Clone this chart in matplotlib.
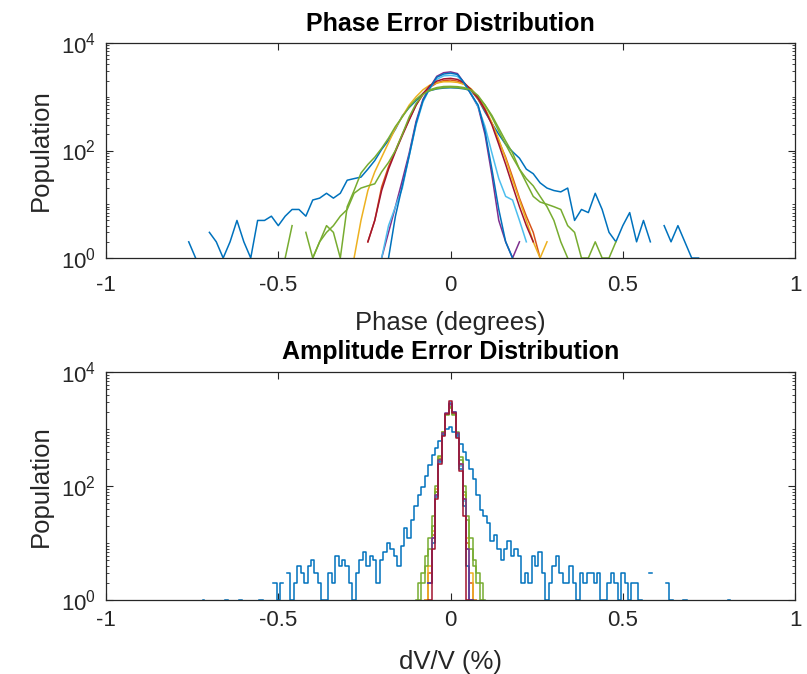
import numpy as np
import matplotlib

matplotlib.use("Agg")

import matplotlib.pyplot as plt
from matplotlib.ticker import FixedLocator, LogLocator, NullFormatter, LogFormatterMathtext

plt.rcParams["font.family"] = ["Liberation Sans", "DejaVu Sans"]
plt.rcParams["mathtext.fontset"] = "custom"
plt.rcParams["mathtext.rm"] = "Liberation Sans"

# MATLAB default line colours
C_BLUE = "#0072BD"
C_ORANGE = "#D95319"
C_YELLOW = "#EDB120"
C_PURPLE = "#7E2F8E"
C_GREEN = "#77AC30"
C_CYAN = "#4DBEEE"
C_RED = "#A2142F"

# ======================
# PHASE HISTOGRAMS (bin width 0.02 deg, 0 = empty bin)
# ======================
phase_step = 0.02

phase_blue_start = -0.76
phase_blue = [2, 1, 0, 3, 2, 1, 2, 5, 2, 1,
              5, 5, 6, 4, 6, 8, 8, 6, 12, 13,
              16, 13, 16, 28, 30, 32, 45, 65, 105, 155,
              250, 440, 630, 850, 1130, 1300, 1400, 1450, 1470, 1450,
              1400, 1300, 900, 520, 320, 200, 130, 95, 72, 45,
              37, 25, 20, 18, 17, 20, 5, 8, 7, 16,
              8, 3, 2, 4, 7, 2, 5, 2, 0, 4,
              2, 4, 2, 1, 1]

phase_orange_start = -0.24
phase_orange = [2, 5, 21, 50, 100, 200, 380, 700, 1100, 1500,
                1800, 2000, 2050, 1950, 1700, 1300, 900, 560, 320, 150,
                75, 32, 13, 6, 3, 1]

phase_yellow_start = -0.28
phase_yellow = [1, 5, 18, 40, 75, 140, 260, 430, 700, 1000,
                1350, 1650, 1800, 1900, 1900, 1850, 1700, 1400, 1000, 620,
                330, 160, 70, 28, 12, 5, 2, 1, 2]

phase_purple_start = -0.20
phase_purple = [1, 3, 9, 28, 90, 350, 900, 1500, 2400, 2800,
                2900, 2700, 1800, 1100, 650, 200, 35, 5, 2, 1,
                2]

phase_green_a_start = -0.48
phase_green_a = [1, 4, 0, 3, 1, 2, 4, 3, 1, 9,
                 18, 38, 55, 75, 110, 170, 280, 420, 650, 900,
                 1150, 1300, 1420, 1480, 1500, 1480, 1420, 1300, 1000, 700,
                 450, 260, 150, 90, 45, 25, 14, 11, 10, 9,
                 8, 4, 3, 1, 1, 2, 1, 1, 2]

phase_cyan_start = -0.20
phase_cyan = [1, 4, 9, 20, 80, 300, 800, 1450, 2100, 2450,
              2500, 2400, 1750, 1150, 650, 280, 90, 30, 14, 12,
              5, 2]

phase_red_start = -0.24
phase_red = [2, 5, 18, 45, 95, 190, 370, 700, 1150, 1600,
             1950, 2150, 2200, 2100, 1800, 1350, 950, 580, 300, 130,
             55, 22, 9, 4, 2]

phase_blue2_start = -0.18
phase_blue2 = [1, 6, 22, 80, 320, 850, 1450, 2300, 2650, 2750,
               2600, 1800, 1100, 700, 230, 45, 8, 2, 1]

phase_green_b_start = -0.40
phase_green_b = [1, 2, 3, 4, 6, 8, 16, 20, 22, 24,
                 40, 60, 100, 200, 420, 750, 1100, 1350, 1480, 1550,
                 1560, 1540, 1480, 1330, 1050, 700, 420, 230, 130, 75,
                 45, 30, 22, 14, 9, 5, 2, 1]

phase_series = [
    (phase_blue_start, phase_blue, C_BLUE),
    (phase_orange_start, phase_orange, C_ORANGE),
    (phase_yellow_start, phase_yellow, C_YELLOW),
    (phase_purple_start, phase_purple, C_PURPLE),
    (phase_green_a_start, phase_green_a, C_GREEN),
    (phase_cyan_start, phase_cyan, C_CYAN),
    (phase_red_start, phase_red, C_RED),
    (phase_blue2_start, phase_blue2, C_BLUE),
    (phase_green_b_start, phase_green_b, C_GREEN),
]

# ======================
# AMPLITUDE HISTOGRAMS (bin width 0.01 %, 0 = empty bin)
# ======================
amp_step = 0.01

amp_blue_start = -0.72
amp_blue = [1, 0, 0, 0, 0, 0, 0, 1, 0, 0,
            0, 1, 0, 0, 0, 0, 0, 1, 0, 0,
            0, 2, 1, 2, 0, 3, 1, 2, 4, 3,
            2, 4, 5, 3, 2, 1, 1, 3, 2, 6,
            4, 5, 4, 2, 1, 3, 5, 7, 4, 6,
            5, 2, 5, 7, 10, 8, 6, 4, 9, 18,
            12, 25, 45, 70, 95, 150, 230, 350, 470, 620,
            800, 1000, 1100, 900, 720, 550, 400, 290, 200, 130,
            70, 38, 30, 22, 11, 14, 8, 5, 8, 11,
            6, 8, 6, 2, 3, 2, 6, 4, 7, 3,
            1, 2, 4, 6, 3, 2, 2, 4, 2, 1,
            3, 2, 3, 3, 2, 3, 1, 1, 2, 3,
            2, 1, 3, 2, 1, 2, 2, 1, 0, 0,
            3, 0, 0, 0, 0, 2, 1, 0, 0, 0,
            1, 0, 0, 0, 0, 0, 0, 0, 0, 0,
            0, 0, 0, 1]

amp_narrow_start = -0.10
amp_orange = [0, 0, 0, 1, 3, 14, 80, 300, 900, 1850, 2600, 1900, 820, 230, 60, 10, 2, 1, 0, 0, 0]
amp_yellow = [0, 0, 0, 1, 4, 16, 90, 320, 900, 1800, 2500, 1850, 840, 240, 70, 12, 3, 1, 0, 0, 0]
amp_purple = [0, 0, 0, 0, 2, 12, 70, 280, 850, 1900, 2700, 2000, 850, 240, 60, 8, 1, 0, 0, 0, 0]
amp_green = [1, 2, 3, 6, 12, 30, 100, 340, 900, 1800, 2300, 1800, 900, 320, 100, 30, 12, 5, 3, 2, 1]
amp_cyan = [0, 0, 0, 0, 2, 12, 70, 270, 820, 1800, 2600, 1900, 800, 220, 55, 8, 1, 0, 0, 0, 0]
amp_red = [0, 0, 0, 0, 1, 8, 60, 240, 750, 1800, 3100, 1900, 700, 180, 30, 1, 0, 0, 0, 0, 0]
amp_blue2 = [0, 0, 0, 0, 2, 10, 65, 260, 800, 1850, 2800, 1950, 780, 200, 45, 4, 1, 0, 0, 0, 0]
amp_green2 = [0, 1, 2, 4, 8, 20, 80, 300, 850, 1750, 2400, 1750, 850, 280, 80, 25, 8, 4, 2, 1, 0]

amp_series = [
    (amp_blue_start, amp_blue, C_BLUE),
    (amp_narrow_start, amp_orange, C_ORANGE),
    (amp_narrow_start, amp_yellow, C_YELLOW),
    (amp_narrow_start, amp_green, C_GREEN),
    (amp_narrow_start, amp_cyan, C_CYAN),
    (amp_narrow_start, amp_blue2, C_BLUE),
    (amp_narrow_start, amp_green2, C_GREEN),
    (amp_narrow_start, amp_purple, C_PURPLE),
    (amp_narrow_start, amp_red, C_RED),
]

xticks = [-1, -0.5, 0, 0.5, 1]
xticklabels = ["-1", "-0.5", "0", "0.5", "1"]
TXT = "#262626"


def to_xy(start, counts, step):
    y = np.array(counts, dtype=float)
    y[y <= 0] = np.nan
    x = start + step * np.arange(len(y))
    return x, y


def style_axes(ax, title, xlabel, xpad, labelpad):
    ax.set_yscale("log")
    ax.set_xlim(-1, 1)
    ax.set_ylim(1, 1e4)
    ax.yaxis.set_major_locator(FixedLocator([1, 100, 10000]))
    ax.yaxis.set_major_formatter(LogFormatterMathtext())
    ax.yaxis.set_minor_locator(LogLocator(base=10, subs=np.arange(1, 10), numticks=20))
    ax.yaxis.set_minor_formatter(NullFormatter())
    ax.set_xticks(xticks)
    ax.set_xticklabels(xticklabels)
    ax.tick_params(which="both", direction="in", top=True, right=True,
                   colors=TXT, labelsize=16)
    ax.tick_params(axis="y", pad=7)
    ax.tick_params(axis="x", pad=xpad)
    ax.tick_params(which="major", length=5, width=0.8)
    ax.tick_params(which="minor", length=2.5, width=0.6)
    for sp in ax.spines.values():
        sp.set_color(TXT)
        sp.set_linewidth(0.9)
    ax.set_title(title, fontsize=18, fontweight="bold", color="black", pad=9)
    ax.set_xlabel(xlabel, fontsize=18.5, color=TXT, labelpad=labelpad)
    ax.set_ylabel("Population", fontsize=18.5, color=TXT, labelpad=6)


fig = plt.figure(figsize=(8.07, 6.74), dpi=100)

ax1 = fig.add_axes([0.1314, 0.6172, 0.8538, 0.3190])
for start, counts, color in phase_series:
    x, y = to_xy(start, counts, phase_step)
    ax1.plot(x, y, color=color, lw=1.1)
style_axes(ax1, "Phase Error Distribution", "Phase (degrees)", xpad=12, labelpad=11)

ax2 = fig.add_axes([0.1314, 0.1098, 0.8538, 0.3383])
for start, counts, color in amp_series:
    x, y = to_xy(start, counts, amp_step)
    ax2.plot(x, y, color=color, lw=1.1, drawstyle="steps-mid")
style_axes(ax2, "Amplitude Error Distribution", "dV/V (%)", xpad=7, labelpad=14)

fig.savefig("out.png", dpi=100)
plt.close(fig)
